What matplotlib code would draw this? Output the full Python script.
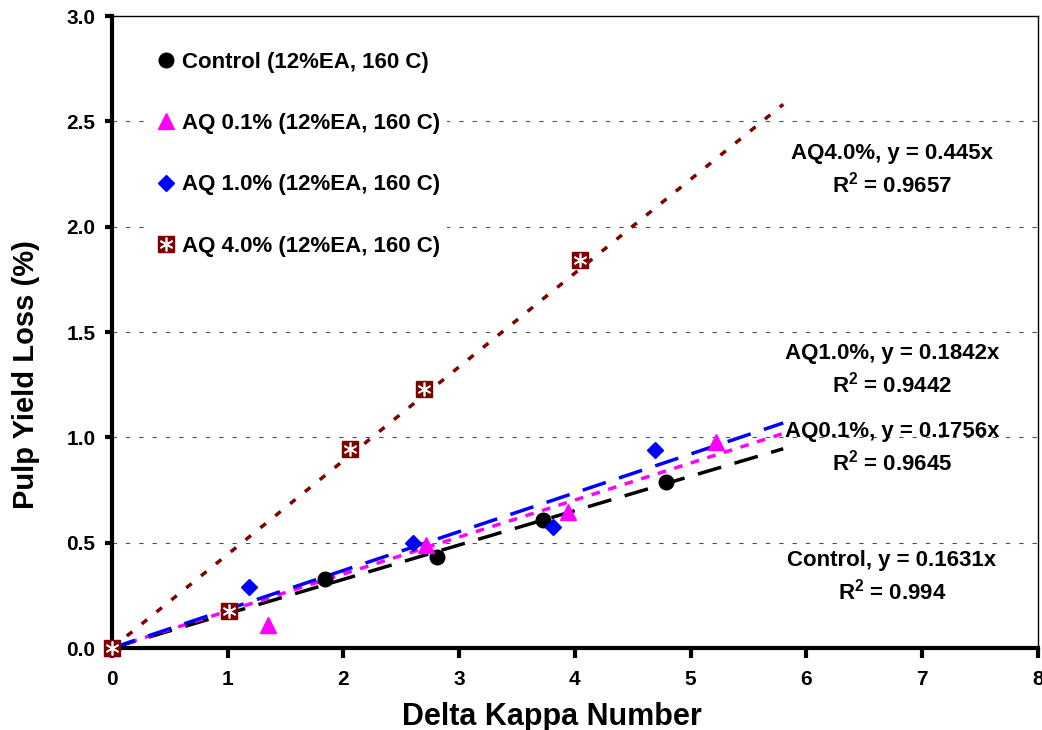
import numpy as np
import matplotlib
matplotlib.use("Agg")
import matplotlib.pyplot as plt
from matplotlib.legend_handler import HandlerTuple

plt.rcParams['font.family'] = ['Liberation Sans', 'DejaVu Sans']
plt.rcParams['font.weight'] = 'bold'
plt.rcParams['mathtext.fontset'] = 'custom'
plt.rcParams['mathtext.rm'] = 'Liberation Sans:bold'
plt.rcParams['mathtext.bf'] = 'Liberation Sans:bold'
plt.rcParams['mathtext.default'] = 'rm'

# data
control_x = [0, 1.84, 2.81, 3.72, 4.79]
control_y = [0, 0.33, 0.43, 0.61, 0.79]
aq01_x = [0, 1.35, 2.71, 3.94, 5.22]
aq01_y = [0, 0.11, 0.49, 0.645, 0.98]
aq10_x = [0, 1.18, 2.60, 3.81, 4.69]
aq10_y = [0, 0.29, 0.50, 0.575, 0.94]
aq40_x = [0, 1.01, 2.06, 2.70, 4.04]
aq40_y = [0, 0.175, 0.945, 1.23, 1.84]

slopes = {"control": 0.1631, "aq01": 0.1756, "aq10": 0.1842, "aq40": 0.445}
trend_x = np.array([0, 5.8])

labels = ["Control (12%EA, 160 C)", "AQ 0.1% (12%EA, 160 C)",
          "AQ 1.0% (12%EA, 160 C)", "AQ 4.0% (12%EA, 160 C)"]

fig = plt.figure(figsize=(10.42, 7.30), dpi=100)
ax = fig.add_axes([0.1075, 0.1123, 0.8885, 0.8657])

# grid
for gy in [0.5, 1.0, 1.5, 2.0, 2.5]:
    ax.axhline(gy, color='#555555', lw=0.8, ls=(0, (4, 8)), zorder=0)

# trend lines
ax.plot(trend_x, slopes["control"] * trend_x, color='black', lw=2.5, ls=(0, (7, 4)), zorder=2)
ax.plot(trend_x, slopes["aq01"] * trend_x, color='#FF00FF', lw=2.5, ls=(0, (2.5, 2.5)), zorder=2)
ax.plot(trend_x, slopes["aq10"] * trend_x, color='#0000FF', lw=2.5, ls=(0, (7, 4)), zorder=2)
ax.plot(trend_x, slopes["aq40"] * trend_x, color='#800000', lw=2.5, ls=(0, (2, 3.5)), zorder=2)

# markers
h1, = ax.plot(control_x, control_y, 'o', color='black', ms=10.5, ls='none', clip_on=False, zorder=5)
h2, = ax.plot(aq01_x, aq01_y, '^', color='#FF00FF', ms=11.5, ls='none', clip_on=False, zorder=5)
h3, = ax.plot(aq10_x, aq10_y, 'D', color='#0000FF', ms=8.5, ls='none', clip_on=False, zorder=5)
h4a, = ax.plot(aq40_x, aq40_y, 's', color='#800000', ms=11, ls='none', clip_on=False, zorder=6)
h4b, = ax.plot(aq40_x, aq40_y, marker=(6, 2, 0), color='white', mec='white', ms=10, mew=1.2,
               ls='none', clip_on=False, zorder=7)

leg = ax.legend([h1, h2, h3, (h4a, h4b)], labels, handler_map={tuple: HandlerTuple(ndivide=1, pad=0)},
                loc='upper left', bbox_to_anchor=(0.03, 0.972), frameon=True, fancybox=False,
                edgecolor='none', facecolor='white', framealpha=1,
                labelspacing=1.82, handlelength=0.8, handletextpad=0.3, borderpad=0.3,
                prop={'weight': 'bold', 'size': 16})
leg.set_zorder(4)

# equations
ann = [(6.74, 2.268, "AQ4.0%, y = 0.445x\nR$^2$ = 0.9657"),
       (6.74, 1.318, "AQ1.0%, y = 0.1842x\nR$^2$ = 0.9442"),
       (6.74, 0.948, "AQ0.1%, y = 0.1756x\nR$^2$ = 0.9645"),
       (6.74, 0.335, "Control, y = 0.1631x\nR$^2$ = 0.994")]
for tx, ty, s in ann:
    ax.text(tx, ty, s, ha='center', va='center', fontsize=16, fontweight='bold',
            linespacing=1.38, zorder=3)

ax.set_xlim(0, 8)
ax.set_ylim(0, 3.0)
ax.set_xticks(range(0, 9))
ax.set_yticks(np.arange(0, 3.01, 0.5))
ax.set_yticklabels(["%.1f" % v for v in np.arange(0, 3.01, 0.5)])
ax.tick_params(axis='x', direction='out', length=7, width=3, labelsize=15, pad=9)
ax.tick_params(axis='y', direction='out', length=5, width=3, labelsize=15, pad=7)
for lab in ax.get_xticklabels() + ax.get_yticklabels():
    lab.set_fontweight('bold')

ax.spines['left'].set_linewidth(3)
ax.spines['bottom'].set_linewidth(3)
ax.spines['top'].set_linewidth(1)
ax.spines['right'].set_linewidth(1)

ax.set_xlabel("Delta Kappa Number", fontsize=22, fontweight='bold')
ax.set_ylabel("Pulp Yield Loss (%)", fontsize=21, fontweight='bold')
ax.xaxis.set_label_coords(0.475, -0.085)
ax.yaxis.set_label_coords(-0.078, 0.432)

fig.savefig("out.png", dpi=100)
